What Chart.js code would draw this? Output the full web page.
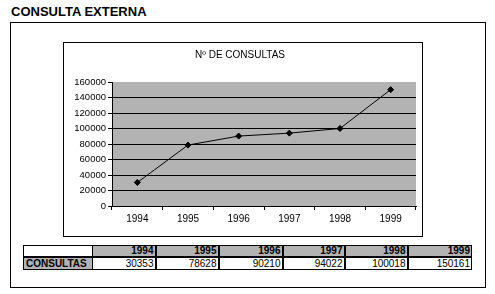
<!doctype html>
<html lang="es">
<head>
  <meta charset="utf-8">
  <title>Consulta externa</title>
  <style>
* {
  margin: 0;
  padding: 0;
  font-family: "Liberation Sans", Arial, sans-serif;
  color: black;
}
body {
  width: 495px;
  height: 294px;
  background: white;
  position: relative;
  overflow: hidden;
}
h1 {
  position: absolute;
  left: 11px;
  top: 5px;
  font-size: 13px;
  line-height: 13px;
  font-weight: bold;
}
.outerBox {
  position: absolute;
  left: 10px;
  top: 22px;
  width: 476px;
  height: 266px;
  border: 1px solid black;
  box-sizing: border-box;
}
.chartBox {
  position: absolute;
  left: 63px;
  top: 42px;
  width: 360px;
  height: 195px;
  border: 1px solid black;
  box-sizing: border-box;
}
.chartBox canvas {
  display: block;
}
table {
  position: absolute;
  left: 23px;
  top: 245px;
  border-collapse: collapse;
  table-layout: fixed;
  font-size: 10px;
}
td {
  border: 1px solid black;
  text-align: right;
  padding: 0 1px 0 0;
  white-space: nowrap;
  overflow: hidden;
}
tr.head td {
  height: 10px;
  line-height: 10px;
  background: #b3b3b3;
  font-weight: bold;
  border-bottom: 2px solid black;
  border-left: 2px solid black;
}
tr.head td.blank {
  background: white;
  border-left: 1px solid black;
}
tr.head td.first {
  border-left: 1px solid black;
}
tr.vals td {
  height: 11px;
  line-height: 11px;
  border-left: 2px solid black;
}
tr.vals td.label {
  background: #b3b3b3;
  font-weight: bold;
  text-align: left;
  padding-left: 2px;
  border-left: 1px solid black;
}
tr.vals td.first {
  border-left: 1px solid black;
}
  </style>
</head>
<body>
  <h1>CONSULTA EXTERNA</h1>
  <div class="outerBox"></div>
  <div class="chartBox">
    <canvas id="myChart" width="358" height="193"></canvas>
  </div>
  <table id="dataTable">
    <colgroup>
      <col style="width:69px"><col style="width:63px"><col style="width:63px"><col style="width:64px">
      <col style="width:62px"><col style="width:63px"><col style="width:64px">
    </colgroup>
  </table>

  <script src="https://cdn.jsdelivr.net/npm/chart.js"></script>
  <script>
    // data
    const years = ['1994', '1995', '1996', '1997', '1998', '1999'];
    const consultas = [30353, 78628, 90210, 94022, 100018, 150161];
    const rowLabel = 'CONSULTAS';
    const chartTitle = 'Nº DE CONSULTAS';
    const yMin = 0;
    const yMax = 160000;
    const yStep = 20000;

    // table under the chart
    const table = document.getElementById('dataTable');
    const head = document.createElement('tr');
    head.className = 'head';
    head.innerHTML = '<td class="blank"></td>' +
      years.map((y, i) => '<td' + (i === 0 ? ' class="first"' : '') + '>' + y + '</td>').join('');
    table.appendChild(head);
    const vals = document.createElement('tr');
    vals.className = 'vals';
    vals.innerHTML = '<td class="label">' + rowLabel + '</td>' +
      consultas.map((v, i) => '<td' + (i === 0 ? ' class="first"' : '') + '>' + v + '</td>').join('');
    table.appendChild(vals);

    // grey plot area
    const plotBackground = {
      id: 'plotBackground',
      beforeDraw(chart) {
        const {ctx, chartArea} = chart;
        ctx.save();
        ctx.fillStyle = '#b3b3b3';
        ctx.fillRect(chartArea.left, chartArea.top, chartArea.width, chartArea.height);
        ctx.restore();
      }
    };

    Chart.defaults.font.family = '"Liberation Sans", Arial, sans-serif';
    Chart.defaults.color = 'black';

    const data = {
      labels: years,
      datasets: [{
        label: rowLabel,
        data: consultas,
        borderColor: 'black',
        borderWidth: 1,
        backgroundColor: 'black',
        pointStyle: 'rectRot',
        pointRadius: 3,
        pointBackgroundColor: 'black',
        tension: 0
      }]
    };

    const config = {
      type: 'line',
      data,
      options: {
        responsive: false,
        animation: false,
        layout: {
          padding: {left: 0, right: 6, top: 0, bottom: 0}
        },
        scales: {
          x: {
            offset: true,
            grid: {
              offset: true,
              drawOnChartArea: false,
              color: 'black',
              tickLength: 4
            },
            border: {color: 'black'},
            ticks: {
              font: {size: 10},
              padding: 3,
              maxRotation: 0
            },
            afterFit: (scale) => { scale.height = 30; }
          },
          y: {
            min: yMin,
            max: yMax,
            ticks: {
              stepSize: yStep,
              font: {size: 9.5},
              padding: 2,
              callback: (v) => String(v)
            },
            grid: {
              color: (context) => context.tick.value === yMax ? 'rgba(0,0,0,0)' : 'black',
              tickColor: 'black',
              tickLength: 4
            },
            border: {color: 'black'},
            afterFit: (scale) => { scale.width = 48; }
          }
        },
        plugins: {
          legend: {display: false},
          tooltip: {enabled: false},
          title: {
            display: true,
            text: chartTitle,
            color: 'black',
            font: {size: 10, weight: 'normal'},
            padding: {top: 6, bottom: 21}
          }
        }
      },
      plugins: [plotBackground]
    };

    const myChart = new Chart(document.getElementById('myChart'), config);
  </script>
</body>
</html>
